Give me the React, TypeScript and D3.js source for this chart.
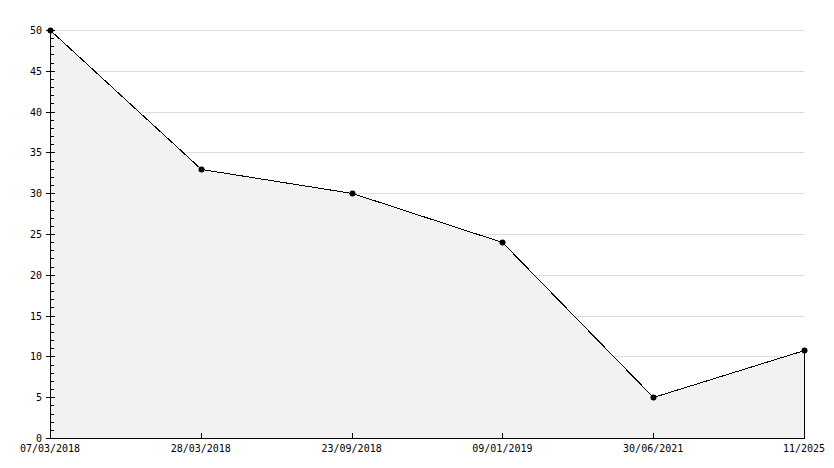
import React from "react";
import * as d3 from "d3";

const categories = ["07/03/2018", "28/03/2018", "23/09/2018", "09/01/2019", "30/06/2021", "11/2025"];
const values = [50, 33, 30, 24, 5, 10.8];
const majorTicks = [0, 5, 10, 15, 20, 25, 30, 35, 40, 45, 50];

const W = 834;
const H = 468;
const left = 50;
const right = 804;
const top = 30;
const bottom = 438;

export default function App() {
  const x = d3.scalePoint<string>().domain(categories).range([left, right]);
  const y = d3.scaleLinear().domain([0, 50]).range([bottom, top]);
  const minorTicks = d3.range(0, 51, 1).filter((v) => v % 5 !== 0);
  const data = categories.map((c, i) => ({ c, v: values[i] }));
  const px = (c: string) => Math.round(x(c) as number) + 0.5;
  const py = (v: number) => Math.round(y(v)) + 0.5;
  const line = d3
    .line<{ c: string; v: number }>()
    .x((d) => px(d.c))
    .y((d) => py(d.v));
  const area = d3
    .area<{ c: string; v: number }>()
    .x((d) => px(d.c))
    .y0(py(0))
    .y1((d) => py(d.v));
  const font = "'DejaVu Sans Mono', monospace";
  const last = categories[categories.length - 1];
  return (
    <div style={{ position: "absolute", left: 0, top: 0 }}>
      <svg width={W} height={H} style={{ display: "block", background: "#fff" }}>
        {majorTicks.slice(1).map((t) => (
          <line key={"g" + t} x1={left} x2={right} y1={py(t)} y2={py(t)} stroke="#dcdcdc" strokeWidth={1} shapeRendering="crispEdges" />
        ))}
        <path d={area(data) || ""} fill="#f2f2f2" stroke="none" />
        <line x1={px(last)} x2={px(last)} y1={py(values[values.length - 1])} y2={bottom} stroke="#000" strokeWidth={1} shapeRendering="crispEdges" />
        <path d={line(data) || ""} fill="none" stroke="#000" strokeWidth={1} shapeRendering="crispEdges" />
        {data.map((d) => (
          <circle key={d.c} cx={px(d.c)} cy={py(d.v)} r={3} fill="#000" />
        ))}
        {/* y axis */}
        <line x1={left + 0.5} x2={left + 0.5} y1={top} y2={bottom + 1} stroke="#000" strokeWidth={1} shapeRendering="crispEdges" />
        {minorTicks.map((t) => (
          <line key={"m" + t} x1={left} x2={left + 4} y1={py(t)} y2={py(t)} stroke="#000" strokeWidth={1} shapeRendering="crispEdges" />
        ))}
        {majorTicks.map((t) => (
          <g key={"y" + t}>
            <line x1={left - 4} x2={left + 5} y1={py(t)} y2={py(t)} stroke="#000" strokeWidth={1} shapeRendering="crispEdges" />
            <text x={42} y={py(t)} textAnchor="end" dominantBaseline="middle" fontFamily={font} fontSize={10} fill="#000">
              {t}
            </text>
          </g>
        ))}
        {/* x axis */}
        <line x1={left} x2={right + 1} y1={bottom + 0.5} y2={bottom + 0.5} stroke="#000" strokeWidth={1} shapeRendering="crispEdges" />
        {categories.map((c) => (
          <g key={"x" + c}>
            <line x1={px(c)} x2={px(c)} y1={bottom - 5} y2={bottom} stroke="#000" strokeWidth={1} shapeRendering="crispEdges" />
            <text x={x(c) as number} y={452} textAnchor="middle" fontFamily={font} fontSize={10} fill="#000">
              {c}
            </text>
          </g>
        ))}
      </svg>
    </div>
  );
}
